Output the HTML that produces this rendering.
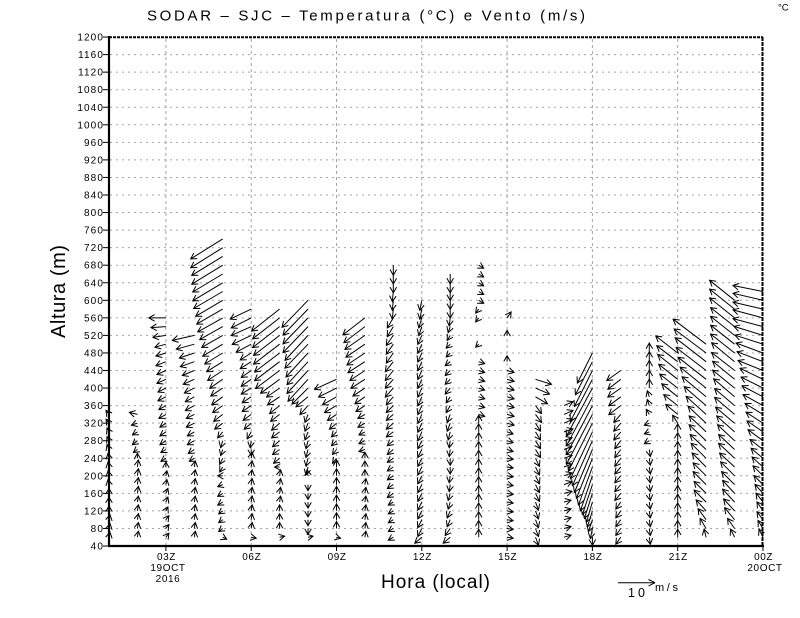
<!DOCTYPE html>
<html>
<head>
<meta charset="utf-8">
<style>
  html,body{margin:0;padding:0;background:#fff;}
  svg{display:block;}
  text{font-family:"Liberation Sans",sans-serif;fill:#000;}
</style>
</head>
<body>
<svg width="800" height="618" viewBox="0 0 800 618" xmlns="http://www.w3.org/2000/svg">
  <defs>
    <marker id="h" markerUnits="userSpaceOnUse" orient="auto" overflow="visible" markerWidth="1" markerHeight="1" refX="0" refY="0">
      <path d="M-5.7 -3.3L0 0L-5.7 3.3" fill="none" stroke="#000" stroke-width="1"/>
    </marker>
  </defs>
  <rect x="0" y="0" width="800" height="618" fill="#fff"/>

  <!-- Title -->
  <text x="147" y="20.5" font-size="15" textLength="438" lengthAdjust="spacing">SODAR – SJC – Temperatura (°C) e Vento (m/s)</text>
  <text x="778" y="10.5" font-size="9.5">°C</text>

  <!-- grid -->
  <g stroke="#a4a4a4" stroke-width="1" stroke-dasharray="2,4" fill="none">
    <line x1="110" y1="528.45" x2="762" y2="528.45"/>
    <line x1="110" y1="510.9" x2="762" y2="510.9"/>
    <line x1="110" y1="493.35" x2="762" y2="493.35"/>
    <line x1="110" y1="475.8" x2="762" y2="475.8"/>
    <line x1="110" y1="458.25" x2="762" y2="458.25"/>
    <line x1="110" y1="440.7" x2="762" y2="440.7"/>
    <line x1="110" y1="423.15" x2="762" y2="423.15"/>
    <line x1="110" y1="405.6" x2="762" y2="405.6"/>
    <line x1="110" y1="388.05" x2="762" y2="388.05"/>
    <line x1="110" y1="370.5" x2="762" y2="370.5"/>
    <line x1="110" y1="352.95" x2="762" y2="352.95"/>
    <line x1="110" y1="335.4" x2="762" y2="335.4"/>
    <line x1="110" y1="317.85" x2="762" y2="317.85"/>
    <line x1="110" y1="300.3" x2="762" y2="300.3"/>
    <line x1="110" y1="282.75" x2="762" y2="282.75"/>
    <line x1="110" y1="265.2" x2="762" y2="265.2"/>
    <line x1="110" y1="247.65" x2="762" y2="247.65"/>
    <line x1="110" y1="230.1" x2="762" y2="230.1"/>
    <line x1="110" y1="212.55" x2="762" y2="212.55"/>
    <line x1="110" y1="195" x2="762" y2="195"/>
    <line x1="110" y1="177.45" x2="762" y2="177.45"/>
    <line x1="110" y1="159.9" x2="762" y2="159.9"/>
    <line x1="110" y1="142.35" x2="762" y2="142.35"/>
    <line x1="110" y1="124.8" x2="762" y2="124.8"/>
    <line x1="110" y1="107.25" x2="762" y2="107.25"/>
    <line x1="110" y1="89.7" x2="762" y2="89.7"/>
    <line x1="110" y1="72.15" x2="762" y2="72.15"/>
    <line x1="110" y1="54.6" x2="762" y2="54.6"/>
  </g>
  <g stroke="#a4a4a4" stroke-width="1" stroke-dasharray="3,3" fill="none">
    <line x1="165.9" y1="39" x2="165.9" y2="545"/>
    <line x1="251.2" y1="39" x2="251.2" y2="545"/>
    <line x1="336.5" y1="39" x2="336.5" y2="545"/>
    <line x1="421.8" y1="39" x2="421.8" y2="545"/>
    <line x1="507.1" y1="39" x2="507.1" y2="545"/>
    <line x1="592.4" y1="39" x2="592.4" y2="545"/>
    <line x1="677.7" y1="39" x2="677.7" y2="545"/>
  </g>

  <!-- wind arrows -->
  <g stroke="#000" stroke-width="1" fill="none" marker-end="url(#h)">
    <g transform="translate(109,0)">
      <path d="M0 414.4l-3-4"/><path d="M0 423.2l-3-4"/><path d="M0 431.9l-2-4"/><path d="M0 440.7l-2-4"/><path d="M0 449.5l-2-5"/><path d="M0 458.3l-1-5"/><path d="M0 467l-1-5"/><path d="M0 475.8l-1-5"/><path d="M0 484.6l-1-5"/><path d="M0 493.4l0-5"/><path d="M0 502.1l0-5"/><path d="M0 510.9l0-5"/><path d="M0 519.7l1-5"/><path d="M0 528.5l1-5"/><path d="M0 537.2l1-5"/>
    </g>
    <g transform="translate(137.4,0)">
      <path d="M0 414.4l-8-2"/><path d="M0 423.2l-6 2"/><path d="M0 431.9l-5 3"/><path d="M0 440.7l-5 4"/><path d="M0 449.5l-4 3"/><path d="M0 458.3l0-5"/><path d="M0 467l1-7"/><path d="M0 475.8l1-7"/><path d="M0 484.6l1-7"/><path d="M0 493.4l1-7"/><path d="M0 502.1l1-6"/><path d="M0 510.9l1-6"/><path d="M0 519.7l1-6"/><path d="M0 528.5l1-6"/><path d="M0 537.2l1-6"/>
    </g>
    <g transform="translate(165.9,0)">
      <path d="M0 317.9l-17 0"/><path d="M0 326.6l-15 1"/><path d="M0 335.4l-13 2"/><path d="M0 344.2l-11 3"/><path d="M0 353l-10 3"/><path d="M0 361.7l-10 4"/><path d="M0 370.5l-9 4"/><path d="M0 379.3l-9 4"/><path d="M0 388.1l-8 4"/><path d="M0 396.8l-8 4"/><path d="M0 405.6l-7 4"/><path d="M0 414.4l-7 4"/><path d="M0 423.2l-6 4"/><path d="M0 431.9l-6 4"/><path d="M0 440.7l-6 4"/><path d="M0 449.5l-5 3"/><path d="M0 458.3l-5 3"/><path d="M0 467l0-5"/><path d="M0 475.8l1-5"/><path d="M0 484.6l1-5"/><path d="M0 493.4l2-5"/><path d="M0 502.1l2-5"/><path d="M0 510.9l2-4"/><path d="M0 519.7l3-4"/><path d="M0 528.5l3-4"/><path d="M0 537.2l3-4"/>
    </g>
    <g transform="translate(194.3,0)">
      <path d="M0 335.4l-22 5"/><path d="M0 344.2l-18 5"/><path d="M0 353l-15 5"/><path d="M0 361.7l-14 5"/><path d="M0 370.5l-12 5"/><path d="M0 379.3l-11 5"/><path d="M0 388.1l-10 5"/><path d="M0 396.8l-9 5"/><path d="M0 405.6l-9 5"/><path d="M0 414.4l-8 4"/><path d="M0 423.2l-8 4"/><path d="M0 431.9l-7 4"/><path d="M0 440.7l-7 4"/><path d="M0 449.5l-6 4"/><path d="M0 458.3l-5 3"/><path d="M0 467l1-6"/><path d="M0 475.8l1-6"/><path d="M0 484.6l1-6"/><path d="M0 493.4l1-6"/><path d="M0 502.1l1-6"/><path d="M0 510.9l1-6"/><path d="M0 519.7l1-6"/><path d="M0 528.5l1-6"/><path d="M0 537.2l1-6"/>
    </g>
    <g transform="translate(222.7,0)">
      <path d="M0 238.9l-32 20"/><path d="M0 247.7l-32 20"/><path d="M0 256.4l-31 19"/><path d="M0 265.2l-31 19"/><path d="M0 274l-30 18"/><path d="M0 282.8l-30 18"/><path d="M0 291.5l-29 17"/><path d="M0 300.3l-27 16"/><path d="M0 309.1l-26 15"/><path d="M0 317.9l-25 14"/><path d="M0 326.6l-23 13"/><path d="M0 335.4l-21 12"/><path d="M0 344.2l-20 12"/><path d="M0 353l-18 11"/><path d="M0 361.7l-16 10"/><path d="M0 370.5l-15 10"/><path d="M0 379.3l-13 9"/><path d="M0 388.1l-12 8"/><path d="M0 396.8l-11 8"/><path d="M0 405.6l-10 7"/><path d="M0 414.4l-9 7"/><path d="M0 423.2l-8 6"/><path d="M0 431.9l-5 6"/><path d="M0 440.7l-2 7"/><path d="M0 449.5l-2 6"/><path d="M0 458.3l-3 6"/><path d="M0 467l-3 5"/><path d="M0 475.8l-5 0"/><path d="M0 484.6l-5 2"/><path d="M0 493.4l-5 3"/><path d="M0 502.1l-5 3"/><path d="M0 510.9l-4 3"/><path d="M0 519.7l-4 3"/><path d="M0 528.5l-4 3"/><path d="M0 537.2l4 2"/>
    </g>
    <g transform="translate(251.2,0)">
      <path d="M0 309.1l-21 10"/><path d="M0 317.9l-20 10"/><path d="M0 326.6l-20 9"/><path d="M0 335.4l-19 9"/><path d="M0 344.2l-15 8"/><path d="M0 353l-11 7"/><path d="M0 361.7l-11 7"/><path d="M0 370.5l-10 7"/><path d="M0 379.3l-10 7"/><path d="M0 388.1l-10 6"/><path d="M0 396.8l-9 6"/><path d="M0 405.6l-9 6"/><path d="M0 414.4l-8 6"/><path d="M0 423.2l-7 6"/><path d="M0 431.9l-4 7"/><path d="M0 440.7l-1 7"/><path d="M0 449.5l0 6"/><path d="M0 458.3l1-6"/><path d="M0 467l1-6"/><path d="M0 475.8l1-6"/><path d="M0 484.6l1-6"/><path d="M0 493.4l1-6"/><path d="M0 502.1l1-6"/><path d="M0 510.9l1-6"/><path d="M0 519.7l1-6"/><path d="M0 528.5l1-6"/><path d="M0 537.2l5 1"/>
    </g>
    <g transform="translate(279.6,0)">
      <path d="M0 309.1l-28 22"/><path d="M0 317.9l-27 21"/><path d="M0 326.6l-27 21"/><path d="M0 335.4l-26 20"/><path d="M0 344.2l-26 20"/><path d="M0 353l-25 19"/><path d="M0 361.7l-25 19"/><path d="M0 370.5l-24 18"/><path d="M0 379.3l-19 14"/><path d="M0 388.1l-13 9"/><path d="M0 396.8l-12 8"/><path d="M0 405.6l-10 8"/><path d="M0 414.4l-9 7"/><path d="M0 423.2l-8 7"/><path d="M0 431.9l-8 6"/><path d="M0 440.7l-7 6"/><path d="M0 449.5l-7 5"/><path d="M0 458.3l-6 5"/><path d="M0 467l-5 0"/><path d="M0 475.8l1-6"/><path d="M0 484.6l1-6"/><path d="M0 493.4l1-6"/><path d="M0 502.1l1-6"/><path d="M0 510.9l0-6"/><path d="M0 519.7l0-6"/><path d="M0 528.5l0-6"/><path d="M0 537.2l5-1"/>
    </g>
    <g transform="translate(308,0)">
      <path d="M0 300.3l-26 27"/><path d="M0 309.1l-25 26"/><path d="M0 317.9l-25 26"/><path d="M0 326.6l-25 26"/><path d="M0 335.4l-23 25"/><path d="M0 344.2l-23 24"/><path d="M0 353l-22 24"/><path d="M0 361.7l-21 23"/><path d="M0 370.5l-21 23"/><path d="M0 379.3l-20 22"/><path d="M0 388.1l-16 16"/><path d="M0 396.8l-12 10"/><path d="M0 405.6l-8 9"/><path d="M0 414.4l-3 8"/><path d="M0 423.2l-3 8"/><path d="M0 431.9l-3 8"/><path d="M0 440.7l-2 8"/><path d="M0 449.5l-2 8"/><path d="M0 458.3l-2 8"/><path d="M0 467l-2 8"/><path d="M0 475.8l-1-6"/><path d="M0 484.6l0 6"/><path d="M0 493.4l0 6"/><path d="M0 502.1l0 6"/><path d="M0 510.9l0 6"/><path d="M0 519.7l0 6"/><path d="M0 528.5l0 6"/><path d="M0 537.2l5-1"/>
    </g>
    <g transform="translate(336.5,0)">
      <path d="M0 379.3l-22 10"/><path d="M0 388.1l-18 9"/><path d="M0 396.8l-14 8"/><path d="M0 405.6l-12 7"/><path d="M0 414.4l-9 6"/><path d="M0 423.2l-7 6"/><path d="M0 431.9l-5 5"/><path d="M0 440.7l-5 5"/><path d="M0 449.5l-4 5"/><path d="M0 458.3l-4 5"/><path d="M0 467l0-7"/><path d="M0 475.8l0-7"/><path d="M0 484.6l0-7"/><path d="M0 493.4l0-7"/><path d="M0 502.1l0-7"/><path d="M0 510.9l0-7"/><path d="M0 519.7l0-7"/><path d="M0 528.5l0-7"/><path d="M0 537.2l4 1"/>
    </g>
    <g transform="translate(364.9,0)">
      <path d="M0 317.9l-22 17"/><path d="M0 326.6l-21 16"/><path d="M0 335.4l-20 14"/><path d="M0 344.2l-19 13"/><path d="M0 353l-18 12"/><path d="M0 361.7l-17 11"/><path d="M0 370.5l-15 10"/><path d="M0 379.3l-14 9"/><path d="M0 388.1l-12 8"/><path d="M0 396.8l-10 7"/><path d="M0 405.6l-9 6"/><path d="M0 414.4l-7 4"/><path d="M0 423.2l-7 4"/><path d="M0 431.9l-6 3"/><path d="M0 440.7l-6 3"/><path d="M0 449.5l-6 2"/><path d="M0 458.3l0-6"/><path d="M0 467l0-6"/><path d="M0 475.8l0-6"/><path d="M0 484.6l1-6"/><path d="M0 493.4l1-6"/><path d="M0 502.1l1-6"/><path d="M0 510.9l1-6"/><path d="M0 519.7l1-6"/><path d="M0 528.5l1-6"/><path d="M0 537.2l1-6"/>
    </g>
    <g transform="translate(393.3,0)">
      <path d="M0 265.2l0 10"/><path d="M0 274l0 10"/><path d="M0 282.8l0 10"/><path d="M0 291.5l-1 10"/><path d="M0 300.3l-1 10"/><path d="M0 309.1l-1 10"/><path d="M0 317.9l-6 10"/><path d="M0 326.6l-6 10"/><path d="M0 335.4l-7 10"/><path d="M0 344.2l-7 10"/><path d="M0 353l-7 10"/><path d="M0 361.7l-8 10"/><path d="M0 370.5l-8 10"/><path d="M0 379.3l-8 9"/><path d="M0 388.1l-8 9"/><path d="M0 396.8l-7 8"/><path d="M0 405.6l-7 7"/><path d="M0 414.4l-7 6"/><path d="M0 423.2l-7 6"/><path d="M0 431.9l-7 5"/><path d="M0 440.7l-6 5"/><path d="M0 449.5l-6 5"/><path d="M0 458.3l-6 4"/><path d="M0 467l-6 4"/><path d="M0 475.8l-6 4"/><path d="M0 484.6l-6 4"/><path d="M0 493.4l-6 4"/><path d="M0 502.1l-5 3"/><path d="M0 510.9l-5 3"/><path d="M0 519.7l-5 3"/><path d="M0 528.5l-5 3"/><path d="M0 537.2l-5 3"/>
    </g>
    <g transform="translate(421.8,0)">
      <path d="M0 300.3l-2 10"/><path d="M0 309.1l-2 10"/><path d="M0 317.9l-3 10"/><path d="M0 326.6l-3 9"/><path d="M0 335.4l-4 9"/><path d="M0 344.2l-4 9"/><path d="M0 353l-4 9"/><path d="M0 361.7l-4 9"/><path d="M0 370.5l-4 9"/><path d="M0 379.3l-4 9"/><path d="M0 388.1l-4 9"/><path d="M0 396.8l-4 9"/><path d="M0 405.6l-4 9"/><path d="M0 414.4l-4 9"/><path d="M0 423.2l-4 9"/><path d="M0 431.9l-4 9"/><path d="M0 440.7l-4 8"/><path d="M0 449.5l-4 8"/><path d="M0 458.3l-4 8"/><path d="M0 467l-4 8"/><path d="M0 475.8l-4 8"/><path d="M0 484.6l-4 8"/><path d="M0 493.4l-4 8"/><path d="M0 502.1l-4 8"/><path d="M0 510.9l-4 8"/><path d="M0 519.7l-4 8"/><path d="M0 528.5l-4 8"/><path d="M0 537.2l-7 6"/>
    </g>
    <g transform="translate(450.2,0)">
      <path d="M0 274l0 10"/><path d="M0 282.8l0 10"/><path d="M0 291.5l0 9"/><path d="M0 300.3l0 9"/><path d="M0 309.1l0 9"/><path d="M0 317.9l-1 8"/><path d="M0 326.6l-2 6"/><path d="M0 335.4l-3 5"/><path d="M0 344.2l-4 4"/><path d="M0 353l-4 4"/><path d="M0 361.7l-5 4"/><path d="M0 370.5l-5 5"/><path d="M0 379.3l-5 5"/><path d="M0 388.1l-5 6"/><path d="M0 396.8l-4 6"/><path d="M0 405.6l-4 7"/><path d="M0 414.4l-3 8"/><path d="M0 423.2l-3 8"/><path d="M0 431.9l-2 8"/><path d="M0 440.7l-1 7"/><path d="M0 449.5l-1 7"/><path d="M0 458.3l0 7"/><path d="M0 467l0 7"/><path d="M0 475.8l-1 7"/><path d="M0 484.6l-1 7"/><path d="M0 493.4l-2 7"/><path d="M0 502.1l-2 7"/><path d="M0 510.9l-3 7"/><path d="M0 519.7l-3 7"/><path d="M0 528.5l-5 7"/><path d="M0 537.2l-7 6"/>
    </g>
    <g transform="translate(478.7,0)">
      <path d="M0 265.2l5 3"/><path d="M0 274l5 3"/><path d="M0 282.8l5 3"/><path d="M0 291.5l5 3"/><path d="M0 300.3l5 3"/><path d="M0 309.1l-3 4"/><path d="M0 317.9l-3 4"/><path d="M0 344.2l-3 3"/><path d="M0 361.7l6 2"/><path d="M0 370.5l6 2"/><path d="M0 379.3l6 2"/><path d="M0 388.1l6 2"/><path d="M0 396.8l6 2"/><path d="M0 405.6l6 2"/><path d="M0 414.4l6 2"/><path d="M0 423.2l0-8"/><path d="M0 431.9l0-8"/><path d="M0 440.7l0-8"/><path d="M0 449.5l0-8"/><path d="M0 458.3l0-8"/><path d="M0 467l0-8"/><path d="M0 475.8l0-8"/><path d="M0 484.6l0-8"/><path d="M0 493.4l0-8"/><path d="M0 502.1l0-8"/><path d="M0 510.9l0-8"/><path d="M0 519.7l0-8"/><path d="M0 528.5l0-8"/><path d="M0 537.2l0-8"/>
    </g>
    <g transform="translate(507.1,0)">
      <path d="M0 317.9l4-6"/><path d="M0 335.4l0-5"/><path d="M0 361.7l0-6"/><path d="M0 370.5l7 2"/><path d="M0 379.3l7 2"/><path d="M0 388.1l7 2"/><path d="M0 396.8l7 2"/><path d="M0 405.6l7 2"/><path d="M0 414.4l7 2"/><path d="M0 423.2l7 2"/><path d="M0 431.9l6 2"/><path d="M0 440.7l6 2"/><path d="M0 449.5l6 2"/><path d="M0 458.3l6 1"/><path d="M0 467l6 1"/><path d="M0 475.8l6 1"/><path d="M0 484.6l6 1"/><path d="M0 493.4l6 1"/><path d="M0 502.1l6 1"/><path d="M0 510.9l6 1"/><path d="M0 519.7l6 1"/><path d="M0 528.5l6 1"/><path d="M0 537.2l6 1"/>
    </g>
    <g transform="translate(535.5,0)">
      <path d="M0 379.3l16 5"/><path d="M0 388.1l14 6"/><path d="M0 396.8l12 7"/><path d="M0 405.6l6 8"/><path d="M0 414.4l6 8"/><path d="M0 423.2l5 8"/><path d="M0 431.9l5 8"/><path d="M0 440.7l5 8"/><path d="M0 449.5l5 8"/><path d="M0 458.3l4 8"/><path d="M0 467l4 8"/><path d="M0 475.8l4 8"/><path d="M0 484.6l4 8"/><path d="M0 493.4l4 8"/><path d="M0 502.1l3 8"/><path d="M0 510.9l3 8"/><path d="M0 519.7l3 8"/><path d="M0 528.5l3 8"/><path d="M0 537.2l3 8"/>
    </g>
    <g transform="translate(564,0)">
      <path d="M0 405.6l9-4"/><path d="M0 414.4l9-4"/><path d="M0 423.2l9-4"/><path d="M0 431.9l9-3"/><path d="M0 440.7l8-3"/><path d="M0 449.5l8-3"/><path d="M0 458.3l8-3"/><path d="M0 467l8-3"/><path d="M0 475.8l8-3"/><path d="M0 484.6l8-3"/><path d="M0 493.4l8-2"/><path d="M0 502.1l7-2"/><path d="M0 510.9l7-2"/><path d="M0 519.7l7-2"/><path d="M0 528.5l7-2"/><path d="M0 537.2l7-2"/>
    </g>
    <g transform="translate(592.4,0)">
      <path d="M0 353l-15 30"/><path d="M0 361.7l-17 33"/><path d="M0 370.5l-18 36"/><path d="M0 379.3l-22 42"/><path d="M0 388.1l-26 48"/><path d="M0 396.8l-26 49"/><path d="M0 405.6l-26 49"/><path d="M0 414.4l-26 50"/><path d="M0 423.2l-24 48"/><path d="M0 431.9l-22 47"/><path d="M0 440.7l-20 45"/><path d="M0 449.5l-18 43"/><path d="M0 458.3l-16 40"/><path d="M0 467l-14 38"/><path d="M0 475.8l-12 35"/><path d="M0 484.6l-10 30"/><path d="M0 493.4l-8 25"/><path d="M0 502.1l-6 20"/><path d="M0 510.9l-5 16"/><path d="M0 519.7l-4 12"/><path d="M0 528.5l-2 10"/><path d="M0 537.2l0 8"/>
    </g>
    <g transform="translate(620.8,0)">
      <path d="M0 370.5l-14 10"/><path d="M0 379.3l-13 10"/><path d="M0 388.1l-13 9"/><path d="M0 396.8l-12 9"/><path d="M0 405.6l-12 9"/><path d="M0 414.4l-7 8"/><path d="M0 423.2l-7 8"/><path d="M0 431.9l-7 8"/><path d="M0 440.7l-6 8"/><path d="M0 449.5l-6 8"/><path d="M0 458.3l-6 8"/><path d="M0 467l-6 7"/><path d="M0 475.8l-6 7"/><path d="M0 484.6l-6 7"/><path d="M0 493.4l-6 7"/><path d="M0 502.1l-5 7"/><path d="M0 510.9l-5 7"/><path d="M0 519.7l-5 7"/><path d="M0 528.5l-5 7"/><path d="M0 537.2l-5 7"/>
    </g>
    <g transform="translate(649.3,0)">
      <path d="M0 353l0-10"/><path d="M0 361.7l0-10"/><path d="M0 370.5l0-10"/><path d="M0 379.3l0-9"/><path d="M0 388.1l0-9"/><path d="M0 396.8l-2-6"/><path d="M0 405.6l-2-6"/><path d="M0 414.4l-3-5"/><path d="M0 423.2l-5 2"/><path d="M0 431.9l-5 2"/><path d="M0 440.7l-5 3"/><path d="M0 449.5l1 7"/><path d="M0 458.3l1 7"/><path d="M0 467l1 7"/><path d="M0 475.8l1 7"/><path d="M0 484.6l1 7"/><path d="M0 493.4l1 7"/><path d="M0 502.1l1 7"/><path d="M0 510.9l1 7"/><path d="M0 519.7l1 7"/><path d="M0 528.5l1 7"/><path d="M0 537.2l1 7"/>
    </g>
    <g transform="translate(677.7,0)">
      <path d="M0 353l-22-17"/><path d="M0 361.7l-21-16"/><path d="M0 370.5l-20-16"/><path d="M0 379.3l-19-15"/><path d="M0 388.1l-18-14"/><path d="M0 396.8l-16-13"/><path d="M0 405.6l-14-11"/><path d="M0 414.4l-12-10"/><path d="M0 423.2l-5-8"/><path d="M0 431.9l0-8"/><path d="M0 440.7l0-8"/><path d="M0 449.5l0-8"/><path d="M0 458.3l0-8"/><path d="M0 467l0-8"/><path d="M0 475.8l0-8"/><path d="M0 484.6l0-8"/><path d="M0 493.4l0-8"/><path d="M0 502.1l0-8"/><path d="M0 510.9l0-8"/><path d="M0 519.7l0-8"/><path d="M0 528.5l0-8"/><path d="M0 537.2l0-8"/>
    </g>
    <g transform="translate(706.1,0)">
      <path d="M0 344.2l-33-25"/><path d="M0 353l-32-24"/><path d="M0 361.7l-31-24"/><path d="M0 370.5l-30-23"/><path d="M0 379.3l-28-22"/><path d="M0 388.1l-26-21"/><path d="M0 396.8l-24-20"/><path d="M0 405.6l-22-19"/><path d="M0 414.4l-20-18"/><path d="M0 423.2l-18-17"/><path d="M0 431.9l-17-16"/><path d="M0 440.7l-17-16"/><path d="M0 449.5l-16-15"/><path d="M0 458.3l-15-15"/><path d="M0 467l-14-14"/><path d="M0 475.8l-13-13"/><path d="M0 484.6l-13-13"/><path d="M0 493.4l-12-12"/><path d="M0 502.1l-12-12"/><path d="M0 510.9l-10-11"/><path d="M0 519.7l-8-11"/><path d="M0 528.5l-6-10"/><path d="M0 537.2l-2-8"/>
    </g>
    <g transform="translate(734.6,0)">
      <path d="M0 300.3l-25-20"/><path d="M0 309.1l-25-20"/><path d="M0 317.9l-25-20"/><path d="M0 326.6l-24-19"/><path d="M0 335.4l-24-19"/><path d="M0 344.2l-24-19"/><path d="M0 353l-24-19"/><path d="M0 361.7l-23-19"/><path d="M0 370.5l-23-18"/><path d="M0 379.3l-22-18"/><path d="M0 388.1l-22-18"/><path d="M0 396.8l-21-18"/><path d="M0 405.6l-20-17"/><path d="M0 414.4l-20-17"/><path d="M0 423.2l-19-16"/><path d="M0 431.9l-18-16"/><path d="M0 440.7l-17-16"/><path d="M0 449.5l-16-15"/><path d="M0 458.3l-16-15"/><path d="M0 467l-15-14"/><path d="M0 475.8l-14-14"/><path d="M0 484.6l-13-13"/><path d="M0 493.4l-12-13"/><path d="M0 502.1l-12-13"/><path d="M0 510.9l-11-12"/><path d="M0 519.7l-10-12"/><path d="M0 528.5l-7-10"/><path d="M0 537.2l-4-8"/>
    </g>
    <g transform="translate(763,0)">
      <path d="M0 291.5l-30-6"/><path d="M0 300.3l-30-7"/><path d="M0 309.1l-30-7"/><path d="M0 317.9l-30-8"/><path d="M0 326.6l-30-8"/><path d="M0 335.4l-29-9"/><path d="M0 344.2l-28-9"/><path d="M0 353l-27-10"/><path d="M0 361.7l-26-10"/><path d="M0 370.5l-25-10"/><path d="M0 379.3l-23-11"/><path d="M0 388.1l-22-11"/><path d="M0 396.8l-21-11"/><path d="M0 405.6l-20-11"/><path d="M0 414.4l-18-11"/><path d="M0 423.2l-17-11"/><path d="M0 431.9l-16-11"/><path d="M0 440.7l-15-11"/><path d="M0 449.5l-13-10"/><path d="M0 458.3l-12-10"/><path d="M0 467l-11-10"/><path d="M0 475.8l-10-10"/><path d="M0 484.6l-9-9"/><path d="M0 493.4l-8-9"/><path d="M0 502.1l-7-9"/><path d="M0 510.9l-6-9"/><path d="M0 519.7l-6-8"/><path d="M0 528.5l-5-8"/><path d="M0 537.2l-4-8"/>
    </g>
  </g>

  <!-- borders -->
  <line x1="109" y1="36" x2="109" y2="547" stroke="#000" stroke-width="2.2"/>
  <line x1="108" y1="546" x2="764" y2="546" stroke="#000" stroke-width="2.2"/>
  <line x1="109" y1="37.3" x2="763" y2="37.3" stroke="#000" stroke-width="2" stroke-dasharray="3,1"/>
  <line x1="762.5" y1="37" x2="762.5" y2="546" stroke="#000" stroke-width="2" stroke-dasharray="4,1"/>

  <!-- ticks -->
  <g stroke="#000" stroke-width="1">
    <line x1="103" y1="546" x2="109" y2="546"/>
    <line x1="103" y1="528.45" x2="109" y2="528.45"/>
    <line x1="103" y1="510.9" x2="109" y2="510.9"/>
    <line x1="103" y1="493.35" x2="109" y2="493.35"/>
    <line x1="103" y1="475.8" x2="109" y2="475.8"/>
    <line x1="103" y1="458.25" x2="109" y2="458.25"/>
    <line x1="103" y1="440.7" x2="109" y2="440.7"/>
    <line x1="103" y1="423.15" x2="109" y2="423.15"/>
    <line x1="103" y1="405.6" x2="109" y2="405.6"/>
    <line x1="103" y1="388.05" x2="109" y2="388.05"/>
    <line x1="103" y1="370.5" x2="109" y2="370.5"/>
    <line x1="103" y1="352.95" x2="109" y2="352.95"/>
    <line x1="103" y1="335.4" x2="109" y2="335.4"/>
    <line x1="103" y1="317.85" x2="109" y2="317.85"/>
    <line x1="103" y1="300.3" x2="109" y2="300.3"/>
    <line x1="103" y1="282.75" x2="109" y2="282.75"/>
    <line x1="103" y1="265.2" x2="109" y2="265.2"/>
    <line x1="103" y1="247.65" x2="109" y2="247.65"/>
    <line x1="103" y1="230.1" x2="109" y2="230.1"/>
    <line x1="103" y1="212.55" x2="109" y2="212.55"/>
    <line x1="103" y1="195" x2="109" y2="195"/>
    <line x1="103" y1="177.45" x2="109" y2="177.45"/>
    <line x1="103" y1="159.9" x2="109" y2="159.9"/>
    <line x1="103" y1="142.35" x2="109" y2="142.35"/>
    <line x1="103" y1="124.8" x2="109" y2="124.8"/>
    <line x1="103" y1="107.25" x2="109" y2="107.25"/>
    <line x1="103" y1="89.7" x2="109" y2="89.7"/>
    <line x1="103" y1="72.15" x2="109" y2="72.15"/>
    <line x1="103" y1="54.6" x2="109" y2="54.6"/>
    <line x1="103" y1="37.05" x2="109" y2="37.05"/>
    <line x1="165.9" y1="546" x2="165.9" y2="551"/>
    <line x1="251.2" y1="546" x2="251.2" y2="551"/>
    <line x1="336.5" y1="546" x2="336.5" y2="551"/>
    <line x1="421.8" y1="546" x2="421.8" y2="551"/>
    <line x1="507.1" y1="546" x2="507.1" y2="551"/>
    <line x1="592.4" y1="546" x2="592.4" y2="551"/>
    <line x1="677.7" y1="546" x2="677.7" y2="551"/>
    <line x1="763" y1="546" x2="763" y2="551"/>
  </g>

  <!-- y labels -->
  <g font-size="10" text-anchor="end" letter-spacing="1.1">
    <text x="104" y="549.5">40</text>
    <text x="104" y="532">80</text>
    <text x="104" y="514.4">120</text>
    <text x="104" y="496.9">160</text>
    <text x="104" y="479.3">200</text>
    <text x="104" y="461.8">240</text>
    <text x="104" y="444.2">280</text>
    <text x="104" y="426.7">320</text>
    <text x="104" y="409.1">360</text>
    <text x="104" y="391.6">400</text>
    <text x="104" y="374">440</text>
    <text x="104" y="356.5">480</text>
    <text x="104" y="338.9">520</text>
    <text x="104" y="321.4">560</text>
    <text x="104" y="303.8">600</text>
    <text x="104" y="286.3">640</text>
    <text x="104" y="268.7">680</text>
    <text x="104" y="251.2">720</text>
    <text x="104" y="233.6">760</text>
    <text x="104" y="216.1">800</text>
    <text x="104" y="198.5">840</text>
    <text x="104" y="181">880</text>
    <text x="104" y="163.4">920</text>
    <text x="104" y="145.9">960</text>
    <text x="104" y="128.3">1000</text>
    <text x="104" y="110.8">1040</text>
    <text x="104" y="93.2">1080</text>
    <text x="104" y="75.7">1120</text>
    <text x="104" y="58.1">1160</text>
    <text x="104" y="40.6">1200</text>
  </g>

  <!-- x labels -->
  <g font-size="10" text-anchor="middle" letter-spacing="0.6">
    <text x="166.5" y="560">03Z</text>
    <text x="168" y="571">19OCT</text>
    <text x="168" y="582">2016</text>
    <text x="251.8" y="560">06Z</text>
    <text x="337.1" y="560">09Z</text>
    <text x="422.4" y="560">12Z</text>
    <text x="507.7" y="560">15Z</text>
    <text x="593" y="560">18Z</text>
    <text x="678.3" y="560">21Z</text>
    <text x="763.6" y="560">00Z</text>
    <text x="765" y="571">20OCT</text>
  </g>

  <!-- axis titles -->
  <text x="381" y="588" font-size="19" textLength="109" lengthAdjust="spacing">Hora (local)</text>
  <text transform="translate(65,291.5) rotate(-90)" x="0" y="0" font-size="20" text-anchor="middle" textLength="93" lengthAdjust="spacing">Altura (m)</text>

  <!-- legend arrow -->
  <g stroke="#000" stroke-width="1" fill="none">
    <line x1="618" y1="582.7" x2="655" y2="582.7"/>
    <line x1="648.5" y1="579.5" x2="655" y2="582.7"/>
    <line x1="648.5" y1="585.9" x2="655" y2="582.7"/>
  </g>
  <text x="628" y="597" font-size="12.5" textLength="17" lengthAdjust="spacing">10</text>
  <text x="655" y="591" font-size="11" textLength="23" lengthAdjust="spacing">m/s</text>
</svg>
</body>
</html>
